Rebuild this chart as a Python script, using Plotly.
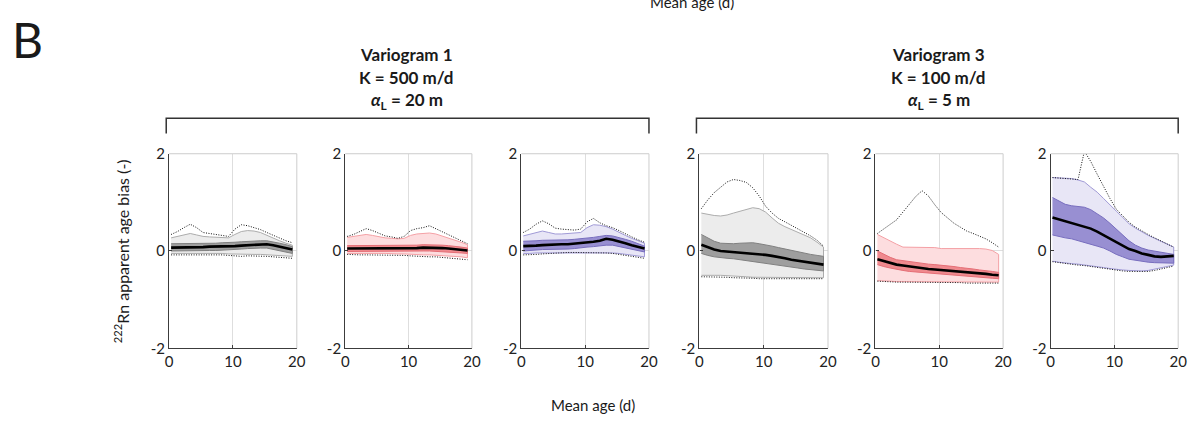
import plotly.graph_objects as go

W, H = 1204, 431

# ---------------- data ----------------
mean_age = [0.3, 1.3, 2.3, 3.3, 4.3, 5.3, 6.3, 7.3, 8.3, 9.3,
            10.3, 11.3, 12.3, 13.3, 14.3, 15.3, 16.3, 17.3, 18.3, 19.3]

# Variogram 1, grey
v1g_max = [0.34, 0.40, 0.48, 0.55, 0.48, 0.38, 0.36, 0.34, 0.32, 0.30, 0.45, 0.54, 0.52, 0.48, 0.44, 0.38, 0.32, 0.26, 0.21, 0.17]
v1g_p95 = [0.27, 0.30, 0.34, 0.36, 0.33, 0.30, 0.29, 0.28, 0.27, 0.27, 0.34, 0.40, 0.42, 0.41, 0.38, 0.32, 0.26, 0.21, 0.16, 0.12]
v1g_p75 = [0.15, 0.15, 0.16, 0.16, 0.16, 0.16, 0.16, 0.16, 0.17, 0.17, 0.18, 0.19, 0.20, 0.21, 0.21, 0.21, 0.19, 0.16, 0.13, 0.09]
v1g_med = [0.07, 0.07, 0.08, 0.08, 0.08, 0.08, 0.09, 0.09, 0.09, 0.10, 0.10, 0.11, 0.12, 0.13, 0.14, 0.14, 0.12, 0.09, 0.06, 0.03]
v1g_p25 = [0.00, 0.00, 0.01, 0.01, 0.01, 0.01, 0.01, 0.01, 0.02, 0.02, 0.03, 0.04, 0.05, 0.06, 0.06, 0.06, 0.04, 0.01, -0.02, -0.05]
v1g_p05 = [-0.05, -0.05, -0.05, -0.04, -0.04, -0.04, -0.04, -0.05, -0.05, -0.06, -0.07, -0.07, -0.07, -0.07, -0.07, -0.08, -0.09, -0.10, -0.10, -0.11]
v1g_min = [-0.08, -0.08, -0.08, -0.07, -0.07, -0.07, -0.07, -0.07, -0.08, -0.09, -0.10, -0.11, -0.10, -0.10, -0.10, -0.11, -0.12, -0.13, -0.14, -0.15]

# Variogram 1, red
v1r_max = [0.30, 0.34, 0.40, 0.46, 0.42, 0.36, 0.31, 0.29, 0.26, 0.30, 0.42, 0.46, 0.48, 0.52, 0.46, 0.40, 0.33, 0.27, 0.21, 0.15]
v1r_p95 = [0.28, 0.30, 0.33, 0.34, 0.32, 0.29, 0.27, 0.26, 0.25, 0.26, 0.32, 0.35, 0.36, 0.37, 0.35, 0.31, 0.27, 0.22, 0.18, 0.13]
v1r_p75 = [0.11, 0.11, 0.11, 0.11, 0.11, 0.11, 0.11, 0.11, 0.11, 0.11, 0.12, 0.12, 0.13, 0.13, 0.13, 0.12, 0.11, 0.10, 0.08, 0.06]
v1r_med = [0.05, 0.05, 0.05, 0.05, 0.05, 0.05, 0.05, 0.05, 0.05, 0.05, 0.06, 0.06, 0.07, 0.07, 0.07, 0.06, 0.05, 0.04, 0.02, 0.01]
v1r_p25 = [-0.01, -0.01, -0.01, -0.01, -0.01, -0.01, -0.01, -0.01, -0.01, -0.01, 0.00, 0.00, 0.00, 0.00, 0.00, -0.01, -0.02, -0.03, -0.04, -0.05]
v1r_p05 = [-0.05, -0.05, -0.05, -0.05, -0.05, -0.05, -0.05, -0.05, -0.06, -0.06, -0.07, -0.07, -0.08, -0.08, -0.08, -0.09, -0.10, -0.11, -0.12, -0.14]
v1r_min = [-0.07, -0.08, -0.08, -0.08, -0.08, -0.08, -0.08, -0.08, -0.09, -0.09, -0.10, -0.11, -0.12, -0.12, -0.12, -0.13, -0.14, -0.15, -0.16, -0.18]

# Variogram 1, blue
v1b_max = [0.38, 0.45, 0.55, 0.62, 0.56, 0.47, 0.45, 0.44, 0.43, 0.45, 0.60, 0.67, 0.58, 0.52, 0.48, 0.42, 0.35, 0.29, 0.23, 0.18]
v1b_p95 = [0.31, 0.34, 0.38, 0.41, 0.38, 0.35, 0.35, 0.36, 0.37, 0.38, 0.48, 0.54, 0.53, 0.50, 0.45, 0.38, 0.32, 0.26, 0.21, 0.16]
v1b_p75 = [0.20, 0.20, 0.21, 0.22, 0.22, 0.22, 0.23, 0.23, 0.24, 0.25, 0.27, 0.28, 0.30, 0.32, 0.31, 0.28, 0.24, 0.20, 0.15, 0.10]
v1b_med = [0.10, 0.10, 0.11, 0.12, 0.13, 0.14, 0.14, 0.14, 0.15, 0.16, 0.17, 0.19, 0.21, 0.25, 0.23, 0.20, 0.16, 0.12, 0.08, 0.05]
v1b_p25 = [0.00, 0.01, 0.02, 0.03, 0.03, 0.04, 0.04, 0.04, 0.05, 0.06, 0.08, 0.09, 0.10, 0.12, 0.12, 0.10, 0.07, 0.04, 0.01, -0.02]
v1b_p05 = [-0.05, -0.05, -0.04, -0.04, -0.03, -0.03, -0.03, -0.03, -0.03, -0.03, -0.03, -0.03, -0.03, -0.04, -0.04, -0.05, -0.07, -0.08, -0.10, -0.12]
v1b_min = [-0.08, -0.08, -0.07, -0.06, -0.05, -0.04, -0.03, -0.03, -0.03, -0.03, -0.04, -0.04, -0.04, -0.04, -0.05, -0.07, -0.09, -0.11, -0.13, -0.15]

# Variogram 3, grey
v3g_max = [0.87, 1.05, 1.20, 1.32, 1.42, 1.47, 1.45, 1.41, 1.30, 1.13, 0.92, 0.78, 0.67, 0.60, 0.53, 0.45, 0.38, 0.31, 0.22, 0.10]
v3g_p95 = [0.78, 0.75, 0.73, 0.72, 0.74, 0.78, 0.82, 0.86, 0.89, 0.87, 0.80, 0.68, 0.57, 0.50, 0.44, 0.39, 0.33, 0.27, 0.18, 0.08]
v3g_p75 = [0.34, 0.27, 0.20, 0.16, 0.15, 0.15, 0.16, 0.17, 0.17, 0.15, 0.13, 0.10, 0.07, 0.04, 0.02, -0.01, -0.04, -0.07, -0.09, -0.11]
v3g_med = [0.13, 0.08, 0.03, 0.00, -0.01, -0.02, -0.03, -0.04, -0.05, -0.06, -0.08, -0.10, -0.12, -0.15, -0.18, -0.20, -0.22, -0.24, -0.26, -0.28]
v3g_p25 = [-0.05, -0.09, -0.12, -0.14, -0.15, -0.16, -0.18, -0.20, -0.22, -0.24, -0.25, -0.27, -0.29, -0.31, -0.33, -0.35, -0.37, -0.39, -0.40, -0.41]
v3g_p05 = [-0.50, -0.50, -0.50, -0.50, -0.50, -0.51, -0.52, -0.53, -0.54, -0.55, -0.55, -0.55, -0.55, -0.55, -0.55, -0.55, -0.55, -0.55, -0.55, -0.55]
v3g_min = [-0.53, -0.53, -0.53, -0.53, -0.54, -0.55, -0.55, -0.56, -0.56, -0.57, -0.57, -0.57, -0.57, -0.57, -0.57, -0.57, -0.57, -0.57, -0.57, -0.57]

# Variogram 3, red
v3r_max = [0.36, 0.45, 0.55, 0.64, 0.80, 0.97, 1.12, 1.24, 1.13, 0.95, 0.79, 0.68, 0.57, 0.49, 0.41, 0.36, 0.30, 0.25, 0.17, 0.08]
v3r_p95 = [0.34, 0.27, 0.21, 0.14, 0.08, 0.08, 0.08, 0.08, 0.08, 0.07, 0.05, 0.05, 0.05, 0.05, 0.05, 0.06, 0.05, 0.04, 0.01, -0.07]
v3r_p75 = [0.00, -0.07, -0.13, -0.18, -0.20, -0.22, -0.24, -0.25, -0.27, -0.28, -0.29, -0.31, -0.32, -0.34, -0.35, -0.37, -0.39, -0.40, -0.42, -0.44]
v3r_med = [-0.17, -0.21, -0.25, -0.28, -0.30, -0.32, -0.34, -0.35, -0.37, -0.38, -0.39, -0.40, -0.41, -0.42, -0.44, -0.45, -0.46, -0.47, -0.49, -0.50]
v3r_p25 = [-0.28, -0.32, -0.35, -0.38, -0.40, -0.42, -0.43, -0.44, -0.46, -0.47, -0.48, -0.49, -0.50, -0.51, -0.52, -0.53, -0.54, -0.55, -0.56, -0.57]
v3r_p05 = [-0.61, -0.62, -0.62, -0.63, -0.63, -0.63, -0.64, -0.64, -0.64, -0.64, -0.64, -0.64, -0.64, -0.64, -0.64, -0.64, -0.64, -0.64, -0.64, -0.64]
v3r_min = [-0.62, -0.63, -0.63, -0.64, -0.64, -0.64, -0.65, -0.65, -0.65, -0.65, -0.65, -0.65, -0.65, -0.65, -0.66, -0.66, -0.66, -0.66, -0.66, -0.66]

# Variogram 3, blue
v3b_max = [1.51, 1.50, 1.50, 1.49, 1.47, 2.05, 1.84, 1.58, 1.32, 1.08, 0.86, 0.72, 0.59, 0.49, 0.41, 0.34, 0.27, 0.21, 0.15, 0.08]
v3b_p95 = [1.51, 1.50, 1.50, 1.49, 1.46, 1.42, 1.31, 1.21, 1.08, 0.96, 0.82, 0.69, 0.56, 0.47, 0.39, 0.32, 0.26, 0.20, 0.14, 0.08]
v3b_p75 = [1.10, 1.03, 0.96, 0.93, 0.91, 0.90, 0.85, 0.77, 0.68, 0.57, 0.45, 0.31, 0.21, 0.12, 0.06, 0.02, 0.00, -0.03, -0.05, -0.07]
v3b_med = [0.69, 0.65, 0.61, 0.58, 0.54, 0.50, 0.46, 0.40, 0.33, 0.26, 0.18, 0.11, 0.04, 0.00, -0.05, -0.08, -0.11, -0.12, -0.11, -0.10]
v3b_p25 = [0.33, 0.30, 0.27, 0.25, 0.22, 0.18, 0.14, 0.10, 0.06, 0.00, -0.07, -0.12, -0.17, -0.19, -0.21, -0.23, -0.24, -0.25, -0.25, -0.25]
v3b_p05 = [-0.21, -0.23, -0.25, -0.26, -0.27, -0.28, -0.30, -0.32, -0.34, -0.36, -0.38, -0.39, -0.40, -0.41, -0.41, -0.40, -0.38, -0.35, -0.32, -0.29]
v3b_min = [-0.22, -0.24, -0.26, -0.27, -0.29, -0.30, -0.32, -0.34, -0.36, -0.38, -0.40, -0.41, -0.42, -0.42, -0.42, -0.42, -0.40, -0.37, -0.34, -0.31]

x_ticks = [0, 10, 20]
y_ticks = [-2, 0, 2]

# ---------------- styles ----------------
PALETTES = {
    "grey": dict(light="rgb(236,236,236)", light_edge="rgb(172,172,172)",
                 dark="rgb(158,158,158)", dark_edge="rgb(128,128,128)"),
    "red": dict(light="rgb(253,221,223)", light_edge="rgb(244,160,165)",
                dark="rgb(239,137,142)", dark_edge="rgb(228,110,118)"),
    "blue": dict(light="rgb(232,230,246)", light_edge="rgb(160,154,214)",
                 dark="rgb(152,143,210)", dark_edge="rgb(120,110,190)"),
}

panels = [
    ("grey", v1g_max, v1g_p95, v1g_p75, v1g_med, v1g_p25, v1g_p05, v1g_min),
    ("red", v1r_max, v1r_p95, v1r_p75, v1r_med, v1r_p25, v1r_p05, v1r_min),
    ("blue", v1b_max, v1b_p95, v1b_p75, v1b_med, v1b_p25, v1b_p05, v1b_min),
    ("grey", v3g_max, v3g_p95, v3g_p75, v3g_med, v3g_p25, v3g_p05, v3g_min),
    ("red", v3r_max, v3r_p95, v3r_p75, v3r_med, v3r_p25, v3r_p05, v3r_min),
    ("blue", v3b_max, v3b_p95, v3b_p75, v3b_med, v3b_p25, v3b_p05, v3b_min),
]

# panel pixel boxes (left, right) and vertical extent
lefts = [167, 345, 523, 703, 881, 1058]
rights = [296, 473, 652, 833, 1010, 1187]
top_px, bot_px = 150, 353

FONT = "Lato"
AX = "#3c3c3c"
TICKFONT = dict(family=FONT, size=15, color="#222")

fig = go.Figure()
layout = dict(width=W, height=H, margin=dict(l=0, r=0, t=0, b=0),
              paper_bgcolor="white", plot_bgcolor="white", showlegend=False,
              font=dict(family=FONT, size=14, color="#222"))
shapes = []

for i, (pal, mx, p95, p75, med, p25, p05, mn) in enumerate(panels):
    n = i + 1
    xa = "x" if n == 1 else f"x{n}"
    ya = "y" if n == 1 else f"y{n}"
    c = PALETTES[pal]
    rev = mean_age[::-1]
    fig.add_trace(go.Scatter(x=mean_age + rev, y=p95 + p05[::-1], fill="toself",
                             fillcolor=c["light"], line=dict(color=c["light_edge"], width=1),
                             mode="lines", hoverinfo="skip", xaxis=xa, yaxis=ya))
    fig.add_trace(go.Scatter(x=mean_age + rev, y=p75 + p25[::-1], fill="toself",
                             fillcolor=c["dark"], line=dict(color=c["dark_edge"], width=1),
                             mode="lines", hoverinfo="skip", xaxis=xa, yaxis=ya))
    for s in (mx, mn):
        fig.add_trace(go.Scatter(x=mean_age, y=s, mode="lines",
                                 line=dict(color="#111", width=1, dash="1px,1.5px"),
                                 hoverinfo="skip", xaxis=xa, yaxis=ya))
    fig.add_trace(go.Scatter(x=mean_age, y=med, mode="lines",
                             line=dict(color="black", width=2.6),
                             hoverinfo="skip", xaxis=xa, yaxis=ya))

    xkey = "xaxis" if n == 1 else f"xaxis{n}"
    ykey = "yaxis" if n == 1 else f"yaxis{n}"
    layout[xkey] = dict(domain=[lefts[i] / W, rights[i] / W], range=[0, 20],
                        anchor=ya, tickvals=x_ticks, ticktext=[str(v) for v in x_ticks],
                        showline=True, linecolor=AX, linewidth=1.3,
                        ticks="inside", ticklen=3, tickcolor=AX,
                        showgrid=True, gridcolor="rgb(222,222,222)", gridwidth=1,
                        zeroline=False, tickfont=TICKFONT)
    layout[ykey] = dict(domain=[1 - bot_px / H, 1 - top_px / H], range=[-2, 2],
                        anchor=xa, tickvals=y_ticks, ticktext=[str(v) for v in y_ticks],
                        showline=True, linecolor=AX, linewidth=1.3,
                        ticks="inside", ticklen=3, tickcolor=AX,
                        showgrid=True, gridcolor="rgb(222,222,222)", gridwidth=1,
                        zeroline=False, tickfont=TICKFONT)
    # light top and right frame edges
    shapes.append(dict(type="line", xref=f"{xa} domain", yref=f"{ya} domain",
                       x0=0, x1=1, y0=1, y1=1, line=dict(color="rgb(205,205,205)", width=1)))
    shapes.append(dict(type="line", xref=f"{xa} domain", yref=f"{ya} domain",
                       x0=1, x1=1, y0=0, y1=1, line=dict(color="rgb(205,205,205)", width=1)))

# brackets
def bracket(x0, x1, ytop=113, ybot=129):
    p = (f"M {x0/W},{1-ybot/H} L {x0/W},{1-ytop/H} "
         f"L {x1/W},{1-ytop/H} L {x1/W},{1-ybot/H}")
    return dict(type="path", xref="paper", yref="paper", path=p,
                line=dict(color="#333", width=1.5))

shapes.append(bracket(164, 652))
shapes.append(bracket(700, 1187))
layout["shapes"] = shapes

def ann(text, xpx, ypx, size, bold=False, angle=0, **kw):
    t = f"<b>{text}</b>" if bold else text
    return dict(text=t, x=xpx / W, y=1 - ypx / H, xref="paper", yref="paper",
                showarrow=False, xanchor="center", yanchor="middle", textangle=angle,
                font=dict(family=FONT, size=size, color="#1a1a1a"), **kw)

annotations = [
    ann("B", 24, 31, 48),
    ann("Mean age (d)", 696, -8, 15),
    ann("Variogram 1", 407, 46, 17, bold=True),
    ann("K = 500 m/d", 407, 70, 17, bold=True),
    ann("<i>α</i><sub>L</sub> = 20 m", 407, 95, 17, bold=True),
    ann("Variogram 3", 945, 46, 17, bold=True),
    ann("K = 100 m/d", 945, 70, 17, bold=True),
    ann("<i>α</i><sub>L</sub> = 5 m", 945, 95, 17, bold=True),
    ann("<sup>222</sup>Rn apparent age bias (-)", 119, 252, 16, angle=-90),
    ann("Mean age (d)", 595, 412, 15),
]
layout["annotations"] = annotations

fig.update_layout(**layout)
fig.write_html("out.html")
